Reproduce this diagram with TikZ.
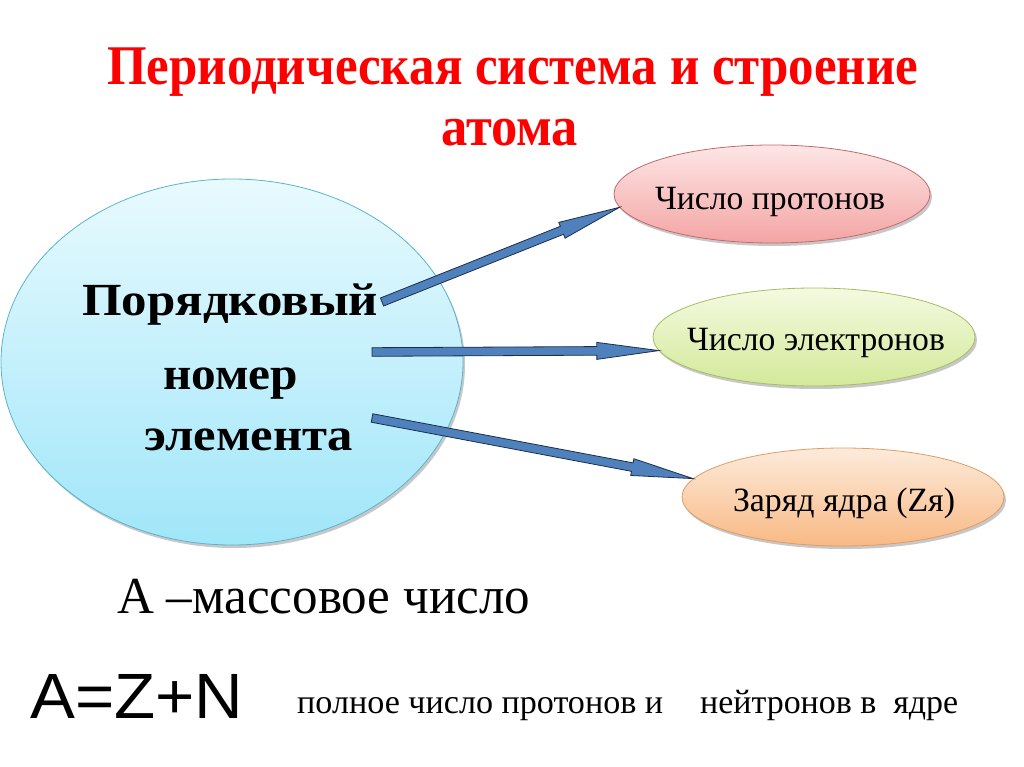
\documentclass[tikz,border=0pt]{standalone}
\usepackage{graphicx}
\usepackage{fontspec}
\setmainfont{Liberation Serif}
\newfontfamily\arialf{Liberation Sans}
\usetikzlibrary{shapes.geometric,calc,shadows}
\definecolor{titlered}{HTML}{FF0000}
\definecolor{ordtop}{HTML}{E8FAFE}
\definecolor{ordbot}{HTML}{A0E6F9}
\definecolor{ordline}{HTML}{5BB4CB}
\definecolor{pinktop}{HTML}{FDE6E6}
\definecolor{pinkbot}{HTML}{F4A4A4}
\definecolor{pinkline}{HTML}{C46A6A}
\definecolor{greentop}{HTML}{F4FAE0}
\definecolor{greenbot}{HTML}{D3E99A}
\definecolor{greenline}{HTML}{A6BE62}
\definecolor{orangetop}{HTML}{FDEBDB}
\definecolor{orangebot}{HTML}{F8B984}
\definecolor{orangeline}{HTML}{E09C66}
\definecolor{arrfill}{HTML}{4F81BD}
\definecolor{arrline}{HTML}{1C2E4A}
\newcommand\fitw[2]{\resizebox{#1}{\height}{#2}}
\newcommand\blockarrow[3]{%
  \coordinate (#3tip) at (#2);
  \coordinate (#3hb) at ($(#3tip)!62pt!(#1)$);
  \draw[blockarr] ($(#1)!4.3pt!90:(#3tip)$) -- ($(#3hb)!4.3pt!90:(#3tip)$)
    -- ($(#3hb)!8.5pt!90:(#3tip)$) -- (#3tip) -- ($(#3hb)!8.5pt!-90:(#3tip)$)
    -- ($(#3hb)!4.3pt!-90:(#3tip)$) -- ($(#1)!4.3pt!-90:(#3tip)$) -- cycle;
}
\tikzset{
  titletext/.style={font=\fontsize{56pt}{56pt}\selectfont\bfseries, text=titlered, inner sep=0pt, anchor=base west},
  ordtext/.style={font=\fontsize{46pt}{46pt}\selectfont\bfseries, inner sep=0pt, anchor=base west},
  smtext/.style={font=\fontsize{34pt}{34pt}\selectfont, inner sep=0pt, anchor=base},
  bigtext/.style={font=\fontsize{52pt}{52pt}\selectfont, inner sep=0pt, anchor=base west},
  formula/.style={font=\fontsize{64pt}{64pt}\selectfont\arialf, inner sep=0pt, anchor=base west},
  smalltext/.style={font=\fontsize{34pt}{34pt}\selectfont, inner sep=0pt, anchor=base west},
  ellbase/.style={ellipse, inner sep=0pt, line width=0.8pt,
    drop shadow={shadow xshift=2pt, shadow yshift=-3pt, opacity=0.22, fill=black}},
  bigell/.style={ellbase, minimum width=462pt, minimum height=366pt,
    draw=ordline, top color=ordtop, bottom color=ordbot},
  smell/.style={ellbase, minimum width=#1, minimum height=98pt},
  blockarr/.style={fill=arrfill, draw=arrline, line width=0.8pt, line join=miter},
}
\begin{document}
\begin{tikzpicture}[x=1pt,y=-1pt]
\useasboundingbox (0,0) rectangle (1024,767);
\fill[white] (0,0) rectangle (1024,767);
% title
\node[titletext] (title1) at (107,85) {\fitw{811pt}{Периодическая система и строение}};
\node[titletext] (title2) at (441,146) {\fitw{137pt}{атома}};
% main ellipse
\node[bigell] (ord) at (232,362) {};
\node[ordtext] (ordl1) at (82,315) {\fitw{296pt}{Порядковый}};
\node[ordtext] (ordl2) at (163,389) {\fitw{135pt}{номер}};
\node[ordtext] (ordl3) at (144,450) {\fitw{209pt}{элемента}};
% small ellipses
\node[smell=316pt, draw=pinkline, top color=pinktop, bottom color=pinkbot] (pro) at (772,194) {};
\node[smtext] (protxt) at (770,210) {\fitw{230pt}{Число протонов}};
\node[smell=322pt, draw=greenline, top color=greentop, bottom color=greenbot] (ele) at (814,337) {};
\node[smtext] (eletxt) at (816,350) {\fitw{258pt}{Число электронов}};
\node[smell=322pt, draw=orangeline, top color=orangetop, bottom color=orangebot] (zar) at (843,497) {};
\node[smtext] (zartxt) at (844,511) {\fitw{222pt}{Заряд ядра (Zя)}};
% arrows
\coordinate (a1) at (382,302);
\coordinate (a2) at (372,352);
\coordinate (a3) at (372,418);
\blockarrow{a1}{pro.185.3}{b1}
\blockarrow{a2}{ele.185.5}{b2}
\blockarrow{a3}{zar.173}{b3}
% bottom texts
\node[bigtext] (mass) at (117,613) {\fitw{413pt}{А –массовое число}};
\node[formula] (azn) at (30,718) {\fitw{213pt}{A=Z+N}};
\node[smalltext] (full1) at (297,713) {\fitw{366pt}{полное число протонов и}};
\node[smalltext] (full2) at (700,713) {\fitw{258pt}{нейтронов в\hspace{0.5em}ядре}};
\end{tikzpicture}
\end{document}
